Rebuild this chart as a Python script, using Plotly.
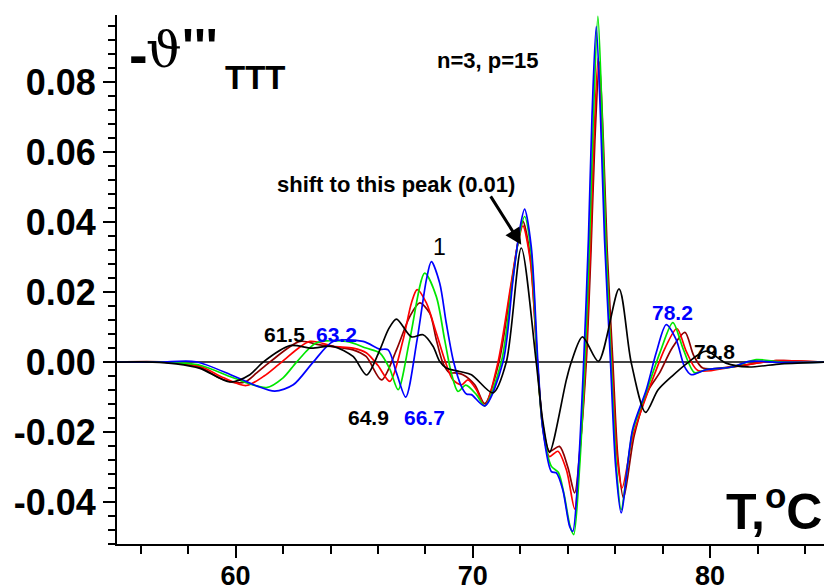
import plotly.graph_objects as go

# ---- data: (T, -theta''') pairs ----
black = [(55.0, 0), (56.5, 0), (57.5, -0.0005), (58.5, -0.0018), (59.76, -0.0057), (60.6, -0.0036),
         (61.16, 0), (62.29, 0.0047), (63.2, 0.0040), (64.11, 0.0045), (64.95, 0.0016), (65.52, -0.0037),
         (66.08, 0.0035), (66.45, 0.0095), (66.78, 0.0123), (67.41, 0.0072), (67.9, 0.0078), (68.32, 0.0045),
         (68.6, 0.0002), (68.88, -0.0017), (69.44, -0.0027), (69.94, -0.0036), (70.85, -0.0088),
         (71.41, 0), (72.04, 0.0326), (72.67, 0), (72.95, -0.017), (73.23, -0.0258), (73.94, -0.0051),
         (74.15, 0), (74.62, 0.0072), (75.29, 0.0002), (76.16, 0.0209), (76.67, 0), (77.28, -0.0144),
         (77.8, -0.008), (78.4, -0.004), (79.0, -0.0005), (79.83, 0.0031), (80.67, -0.0003),
         (81.6, -0.0014), (83.0, -0.0005), (84.8, 0)]

darkred = [(55.0, 0), (57.0, 0), (58.5, -0.0015), (59.3, -0.0045), (59.9, -0.0058), (60.4, -0.0057),
           (60.9, -0.003), (61.44, 0), (62.71, 0.0059), (63.55, 0.0049), (64.95, 0.0035), (65.5, 0.0016),
           (66.15, -0.0051), (66.78, 0.0035), (67.34, 0.013), (67.76, 0.0169), (68.18, 0.014),
           (68.46, 0.0064), (68.74, -0.0003), (69.02, -0.0031), (69.23, -0.0031), (69.58, -0.0036),
           (70.08, -0.0065), (70.5, -0.0119), (71.1, 0), (71.62, 0.022), (71.92, 0.035), (72.11, 0.0402),
           (72.42, 0.030), (72.72, 0), (72.95, -0.018), (73.23, -0.0255), (73.65, -0.0241), (74.0, -0.03),
           (74.29, -0.0374), (74.55, -0.022), (74.78, 0), (74.98, 0.032), (75.14, 0.063), (75.33, 0.0858),
           (75.5, 0.063), (75.66, 0.032), (75.9, 0), (76.12, -0.028), (76.35, -0.0389), (76.8, -0.021),
           (77.4, -0.008), (77.87, -0.0031), (78.4, 0.004), (78.94, 0.0085), (79.3, 0.002),
           (79.69, -0.0017), (80.94, -0.0013), (82.78, 0.0004), (84.8, 0)]

red = [(55.0, 0), (57.0, 0), (58.5, -0.0012), (59.5, -0.0045), (60.45, -0.0067), (61.2, -0.004),
       (61.94, 0), (63.13, 0.0059), (64.11, 0.0045), (64.95, 0.004), (65.52, 0.0026), (66.0, -0.001),
       (66.5, -0.0055), (67.06, 0.0064), (67.41, 0.0169), (67.65, 0.0207), (68.04, 0.0169),
       (68.46, 0.0083), (68.81, 0.0007), (69.16, -0.0051), (69.52, -0.0065), (69.79, -0.0051),
       (70.15, -0.0079), (70.5, -0.0125), (71.06, 0), (71.6, 0.022), (71.9, 0.034), (72.11, 0.0389),
       (72.42, 0.029), (72.72, 0), (72.95, -0.019), (73.23, -0.027), (73.58, -0.0255), (73.95, -0.031),
       (74.29, -0.042), (74.52, -0.025), (74.75, 0), (74.95, 0.032), (75.1, 0.063), (75.28, 0.0869),
       (75.46, 0.063), (75.62, 0.032), (75.86, 0), (76.08, -0.027), (76.29, -0.036), (76.75, -0.021),
       (77.35, -0.009), (77.65, -0.0036), (78.1, 0.004), (78.6, 0.0096), (79.0, 0.003),
       (79.48, -0.0024), (80.94, -0.0014), (82.78, 0.0004), (84.8, 0)]

green = [(55.0, 0), (57.0, 0), (58.5, -0.0009), (59.9, -0.0045), (61.3, -0.0073), (62.0, -0.0045),
         (62.57, 0), (63.41, 0.0055), (64.67, 0.0059), (65.5, 0.0040), (66.08, 0.0026), (66.5, -0.002),
         (66.85, -0.0079), (67.34, 0.0064), (67.97, 0.0254), (68.46, 0.0187), (68.81, 0.0064),
         (69.09, -0.0031), (69.37, -0.0084), (69.7, -0.0066), (70.15, -0.0093), (70.5, -0.0125),
         (71.2, 0), (71.65, 0.022), (71.95, 0.036), (72.18, 0.0416), (72.46, 0.031), (72.72, 0),
         (72.95, -0.019), (73.31, -0.0298), (73.6, -0.0315), (73.85, -0.038), (74.1, -0.047),
         (74.25, -0.0493), (74.5, -0.03), (74.72, 0), (74.92, 0.035), (75.08, 0.07), (75.27, 0.0988),
         (75.45, 0.07), (75.6, 0.035), (75.83, 0), (76.05, -0.03), (76.25, -0.0422), (76.73, -0.02),
         (77.31, -0.0085), (77.9, 0.003), (78.43, 0.0113), (78.85, 0.004), (79.34, -0.003),
         (79.83, -0.0022), (80.94, -0.0014), (81.94, 0.0007), (83.0, 0), (84.8, 0)]

blue = [(55.0, 0), (56.8, 0), (58.33, 0.0001), (59.89, -0.0039), (60.88, -0.0068), (61.65, -0.0083),
        (62.43, -0.0065), (63.27, 0.0), (64.11, 0.0059), (65.37, 0.0059), (66.08, 0.0037),
        (66.43, 0.0035), (66.78, -0.0031), (67.17, -0.0100), (67.65, 0.0064), (68.04, 0.0235),
        (68.25, 0.0287), (68.60, 0.0226), (68.88, 0.0111), (69.19, 0.0), (69.52, -0.0070),
        (69.73, -0.0091), (69.94, -0.0093), (70.50, -0.0125), (71.27, 0.0), (71.69, 0.0235),
        (71.97, 0.0378), (72.18, 0.0437), (72.46, 0.0330), (72.74, 0.0), (72.95, -0.0193),
        (73.31, -0.0313), (73.52, -0.0317), (73.79, -0.0365), (74.08, -0.0470), (74.21, -0.0484),
        (74.45, -0.03), (74.67, 0.0), (74.87, 0.035), (75.02, 0.07), (75.20, 0.0959), (75.38, 0.07),
        (75.55, 0.035), (75.80, 0.0), (76.02, -0.03), (76.25, -0.0431), (76.73, -0.0193),
        (77.31, -0.0079), (77.73, 0.0027), (78.15, 0.0107), (78.57, 0.0064), (78.92, -0.0013),
        (79.20, -0.0036), (79.83, -0.0022), (80.94, -0.0014), (81.65, 0.0002), (83.04, -0.0001),
        (84.8, 0.0)]

series = [("darkred", "#8B0000"), ("red", "#FF0000"), ("green", "#00E600"),
          ("blue", "#0000FF"), ("black", "#000000")]
data = {"black": black, "darkred": darkred, "red": red, "green": green, "blue": blue}

y_ticks = [-0.04, -0.02, 0.0, 0.02, 0.04, 0.06, 0.08]
y_ticktext = ["-0.04", "-0.02", "0.00", "0.02", "0.04", "0.06", "0.08"]
x_ticks = [60, 70, 80]

FONT = "Liberation Sans, Arial, sans-serif"

fig = go.Figure()
for name, col in series:
    pts = data[name]
    fig.add_trace(go.Scatter(x=[p[0] for p in pts], y=[p[1] for p in pts], mode="lines",
                             line=dict(color=col, width=1.7, shape="spline", smoothing=0.8),
                             name=name, showlegend=False, hoverinfo="skip"))

fig.update_layout(
    width=824, height=586, margin=dict(l=117, r=0, t=15, b=42),
    plot_bgcolor="white", paper_bgcolor="white",
    font=dict(family=FONT, color="black"),
    xaxis=dict(range=[55.0, 84.8], tickvals=x_ticks, ticktext=[str(v) for v in x_ticks],
               ticks="outside", ticklen=12, tickwidth=2, tickcolor="black", automargin=False,
               ticklabelstandoff=-5,
               tickfont=dict(size=27, family=FONT, weight="bold"),
               showline=True, linewidth=2, linecolor="black", showgrid=False, zeroline=False,
               minor=dict(tick0=0, dtick=2, ticks="outside", ticklen=8, tickwidth=2, tickcolor="black")),
    yaxis=dict(range=[-0.052, 0.0992], tickvals=y_ticks, ticktext=y_ticktext,
               ticks="outside", ticklen=12, tickwidth=2, tickcolor="black", automargin=False,
               tickfont=dict(size=36, family=FONT, weight="bold"),
               showline=True, linewidth=2, linecolor="black", showgrid=False,
               zeroline=True, zerolinecolor="#444444", zerolinewidth=1.5,
               minor=dict(tick0=0, dtick=0.004, ticks="outside", ticklen=7, tickwidth=2, tickcolor="black")),
)

def txt(x, y, s, size, color="black", bold=True, xanchor="center", yanchor="middle", family=FONT):
    fig.add_annotation(x=x, y=y, xref="x", yref="y", text=(f"<b>{s}</b>" if bold else s),
                       showarrow=False, xanchor=xanchor, yanchor=yanchor,
                       font=dict(size=size, color=color, family=family))

# y-axis title pieces: -ϑ''' with subscript TTT
txt(55.89, 0.0880, "-", 56)
txt(56.98, 0.0892, "ϑ", 50, bold=False, family="DejaVu Serif, serif")
txt(58.50, 0.0900, "'''", 50)
txt(59.47, 0.0812, "TTT", 33, xanchor="left")

txt(70.63, 0.0861, "n=3, p=15", 22)
txt(66.77, 0.0508, "shift to this peak (0.01)", 22)
txt(68.6, 0.0330, "1", 23, bold=False)
txt(62.04, 0.0078, "61.5", 21)
txt(64.27, 0.0078, "63.2", 21, color="#0000FF")
txt(65.62, -0.0158, "64.9", 21)
txt(67.97, -0.0158, "66.7", 21, color="#0000FF")
txt(78.41, 0.0141, "78.2", 21, color="#0000FF")
txt(80.2, 0.0030, "79.8", 21)
txt(84.78, -0.0418, "T,<sup>o</sup>C", 50, xanchor="right")

fig.add_annotation(x=72.04, y=0.0335, ax=70.71, ay=0.0478, xref="x", yref="y", axref="x", ayref="y",
                   text="", showarrow=True, arrowhead=2, arrowsize=1.1, arrowwidth=3, arrowcolor="black")

fig.write_html("out.html")
